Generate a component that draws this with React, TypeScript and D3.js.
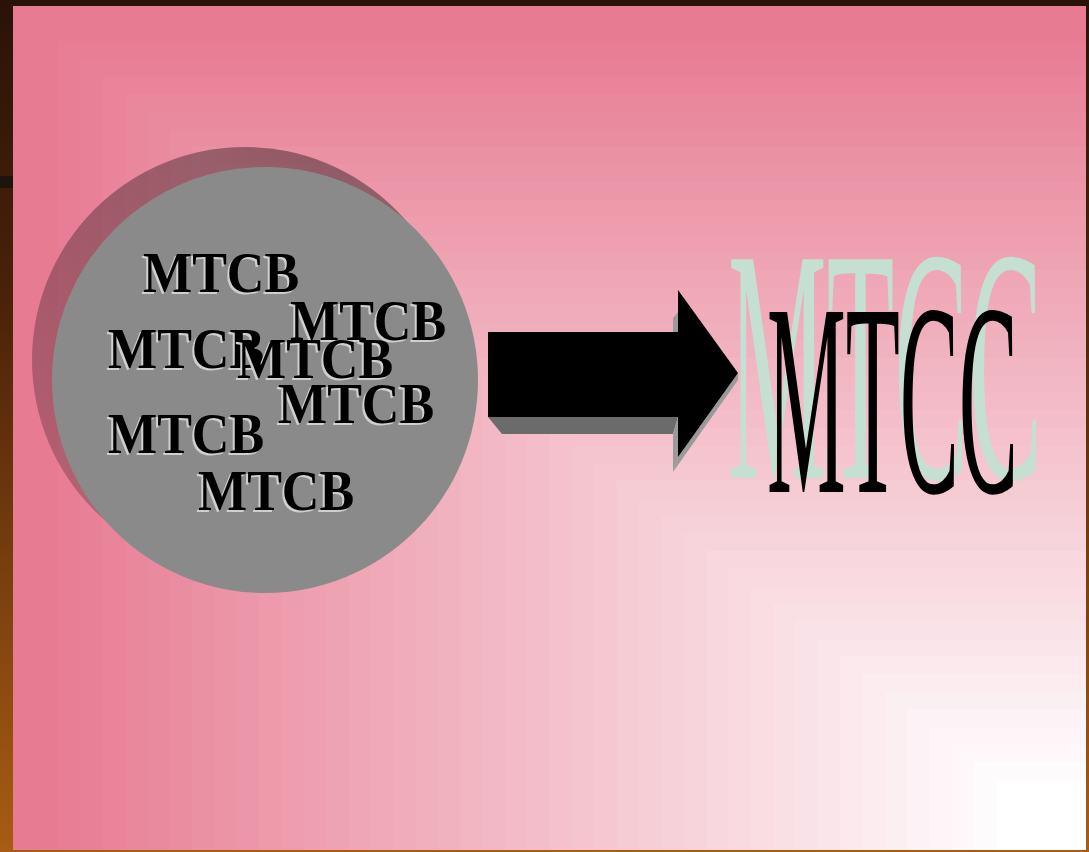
import React from 'react';
import * as d3 from 'd3';

// slide size
const W = 1089;
const H = 852;

// labels
const sourceLabels = ['MTCB', 'MTCB', 'MTCB', 'MTCB', 'MTCB', 'MTCB', 'MTCB'];
const targetLabel = 'MTCC';

// where each small label sits (left x, baseline y)
const sourceX = [143, 290, 108, 237, 278, 108, 198];
const sourceY = [292, 340, 368, 378, 423, 453, 510];

// background bands, counted from the bottom-right corner
const bandSteps = d3.range(0, 1.0001, 1 / 48);

const panel = { x0: 13, y0: 6, x1: 1086, y1: 850 };
const pink = '#e77b92';

const bandColor = (t: number) => {
  const k = Math.max(0, Math.min(1, (t - 0.08) / 0.9));
  return d3.interpolateRgb('#ffffff', pink)(k);
};

const serif = "'Liberation Serif', 'Times New Roman', serif";

export default function App() {
  const pw = panel.x1 - panel.x0;
  const ph = panel.y1 - panel.y0;
  const bands = bandSteps.slice().reverse();

  const circle = { cx: 265, cy: 380, r: 213 };

  // arrow outline
  const arrow = [
    [488, 332], [678, 332], [678, 290], [738, 373], [678, 457], [678, 417], [488, 417],
  ];
  const line = d3.line();
  const poly = (pts: number[][]) => line(pts as any) + 'Z';

  return (
    <svg
      width={W}
      height={H}
      style={{ position: 'fixed', left: 0, top: 0, display: 'block' }}
    >
      <defs>
        <linearGradient id="wood" x1="0" y1="0" x2="0" y2="1">
          <stop offset="0" stopColor="#2a1209" />
          <stop offset="0.35" stopColor="#4a2208" />
          <stop offset="1" stopColor="#a85c14" />
        </linearGradient>
        <linearGradient id="shade" x1="0" y1="1" x2="1" y2="0">
          <stop offset="0" stopColor="#000" stopOpacity="0.2" />
          <stop offset="1" stopColor="#000" stopOpacity="0.42" />
        </linearGradient>
      </defs>

      {/* frame */}
      <rect x={0} y={0} width={W} height={H} fill="url(#wood)" />
      <rect x={0} y={176} width={13} height={12} fill="#111" opacity={0.7} />

      {/* background bands */}
      {bands.map((t, i) => (
        <rect
          key={i}
          x={panel.x1 - t * pw}
          y={panel.y1 - t * ph}
          width={t * pw}
          height={t * ph}
          fill={bandColor(t)}
        />
      ))}

      {/* circle with shadow */}
      <circle cx={circle.cx - 20} cy={circle.cy - 20} r={circle.r} fill="url(#shade)" />
      <circle cx={circle.cx} cy={circle.cy} r={circle.r} fill="#8a8a8a" />

      {sourceLabels.map((s, i) => (
        <g key={i} fontFamily={serif} fontWeight="bold" fontSize={56}>
          <text transform={`translate(${sourceX[i] - 2},${sourceY[i] + 2}) scale(0.93,1)`} fill="#cfcfcf">{s}</text>
          <text transform={`translate(${sourceX[i]},${sourceY[i]}) scale(0.93,1)`} fill="#000">{s}</text>
        </g>
      ))}

      {/* arrow extrusion */}
      <path d={poly([[488, 417], [678, 417], [673, 434], [502, 434]])} fill="#6b6b6b" />
      <path d={poly([[678, 417], [678, 457], [673, 472], [673, 434]])} fill="#9a9a9a" />
      <path d={poly([[738, 373], [738, 380], [673, 472], [678, 457]])} fill="#9a9a9a" />
      <path d={poly([[678, 312], [678, 332], [673, 332], [673, 318]])} fill="#9a9a9a" />
      <path d={poly(arrow)} fill="#000" />

      {/* target label */}
      <text
        transform="translate(728,478) scale(0.332,1)"
        fill="#c6dfd3"
        fontFamily={serif}
        fontSize={334}
      >
        {targetLabel}
      </text>
      <text
        transform="translate(767,492) scale(0.322,1)"
        fill="#000"
        fontFamily={serif}
        fontSize={275}
      >
        {targetLabel}
      </text>
    </svg>
  );
}
